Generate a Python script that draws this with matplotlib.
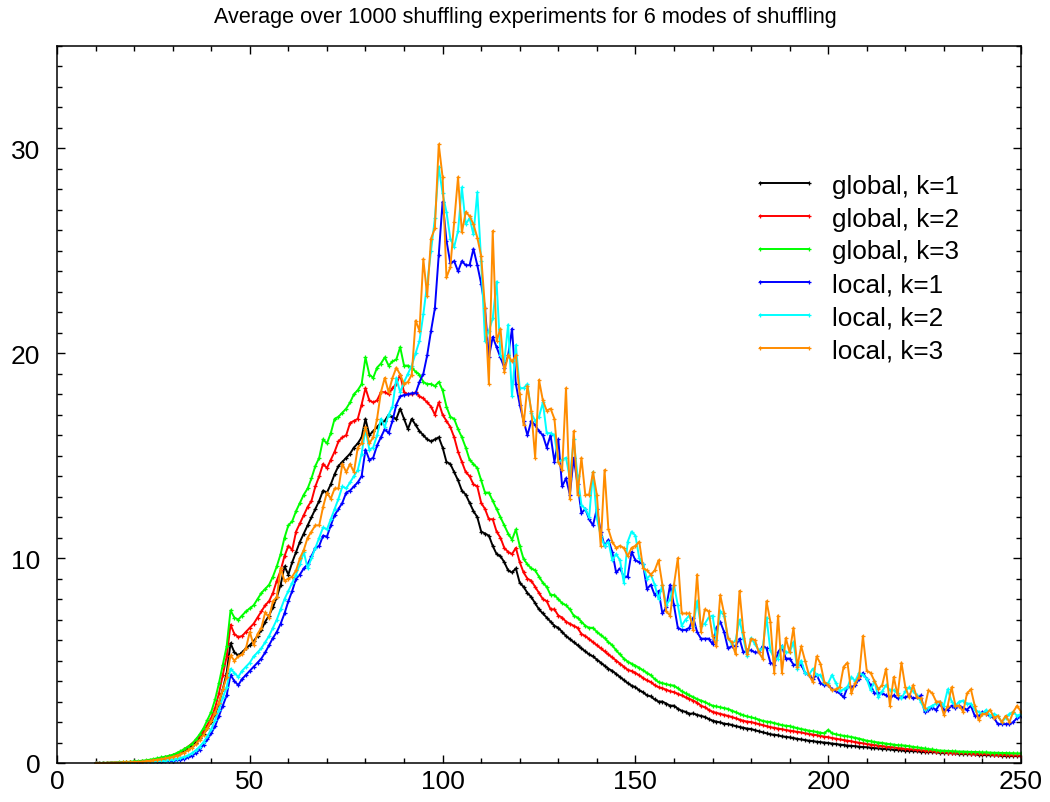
import numpy as np
import matplotlib
matplotlib.use("Agg")
import matplotlib.pyplot as plt
from matplotlib.ticker import MultipleLocator

plt.rcParams['font.family'] = ['Liberation Sans', 'DejaVu Sans']

title = "Average over 1000 shuffling experiments for 6 modes of shuffling"
labels = ["global, k=1", "global, k=2", "global, k=3", "local, k=1", "local, k=2", "local, k=3"]
colors = ["#000000", "#ff0000", "#00ff00", "#0000ff", "#00ffff", "#ff8c00"]

x_start, x_end = 10, 250

global_k1 = [
    0.00, 0.00, 0.00, 0.00, 0.01, 0.01, 0.01, 0.02, 0.02, 0.03,
    0.04, 0.05, 0.06, 0.08, 0.10, 0.12, 0.15, 0.18, 0.22, 0.27,
    0.33, 0.40, 0.48, 0.58, 0.70, 0.84, 1.00, 1.20, 1.42, 1.70,
    2.00, 2.40, 2.90, 3.60, 4.40, 5.85, 5.40, 5.25, 5.40, 5.60,
    5.75, 5.95, 6.20, 6.50, 6.90, 7.20, 7.60, 8.10, 8.70, 9.60,
    9.20, 9.80, 10.30, 10.80, 11.20, 11.60, 12.00, 12.40, 12.80, 13.30,
    13.20, 13.60, 14.10, 14.50, 14.70, 14.90, 15.10, 15.40, 15.60, 15.90,
    16.80, 16.00, 16.20, 16.40, 16.60, 16.70, 17.00, 16.90, 16.80, 17.30,
    16.80, 16.30, 16.80, 16.50, 16.20, 16.00, 15.80, 15.70, 15.80, 15.90,
    15.40, 14.70, 14.60, 14.20, 13.80, 13.30, 13.10, 12.70, 12.30, 12.00,
    11.30, 11.20, 11.10, 10.60, 10.20, 10.10, 9.80, 9.40, 9.30, 9.50,
    8.80, 8.60, 8.30, 8.10, 7.80, 7.50, 7.30, 7.10, 6.90, 6.70,
    6.60, 6.40, 6.20, 6.05, 5.90, 5.75, 5.60, 5.45, 5.30, 5.20,
    5.05, 4.90, 4.75, 4.60, 4.50, 4.35, 4.20, 4.05, 3.90,
    3.78, 3.70, 3.55, 3.45, 3.30, 3.25, 3.10, 3.00, 3.00, 2.90,
    2.80, 2.80, 2.65, 2.55, 2.50, 2.40, 2.42, 2.35, 2.30, 2.25,
    2.15, 2.07, 2.02, 1.98, 1.92, 1.90, 1.86, 1.80, 1.76, 1.72,
    1.68, 1.66, 1.60, 1.55, 1.50, 1.45, 1.40, 1.38, 1.35, 1.30,
    1.28, 1.25, 1.22, 1.18, 1.15, 1.12, 1.09, 1.07, 1.04, 1.02,
    1.00, 0.98, 0.95, 0.93, 0.90, 0.88, 0.85, 0.84, 0.82, 0.80,
    0.78, 0.77, 0.75, 0.73, 0.71, 0.70, 0.68, 0.66, 0.65, 0.63,
    0.62, 0.60, 0.59, 0.58, 0.57, 0.56, 0.55, 0.54, 0.53, 0.52,
    0.51, 0.50, 0.49, 0.48, 0.47, 0.46, 0.45, 0.44, 0.43, 0.42,
    0.41, 0.40, 0.39, 0.38, 0.38, 0.37, 0.36, 0.35, 0.35, 0.34,
    0.34, 0.33,
]

global_k2 = [
    0.00, 0.00, 0.00, 0.00, 0.01, 0.01, 0.02, 0.02, 0.03, 0.04,
    0.05, 0.06, 0.08, 0.10, 0.12, 0.15, 0.18, 0.22, 0.27, 0.32,
    0.38, 0.46, 0.55, 0.66, 0.80, 0.95, 1.12, 1.32, 1.55, 1.85,
    2.20, 2.70, 3.40, 4.30, 5.20, 6.75, 6.30, 6.15, 6.20, 6.40,
    6.60, 6.80, 7.10, 7.40, 7.70, 7.90, 8.30, 8.90, 9.40, 10.10,
    10.60, 10.40, 11.30, 11.70, 12.10, 12.50, 12.80, 13.50, 14.00, 14.60,
    14.40, 14.80, 15.20, 15.70, 15.90, 16.00, 16.60, 16.70, 16.80, 17.50,
    18.30, 17.70, 17.60, 17.70, 18.10, 18.10, 18.00, 18.30, 18.50, 18.96,
    18.10, 18.00, 18.00, 18.10, 17.90, 17.80, 17.60, 17.40, 17.00, 17.60,
    17.00, 16.70, 16.40, 15.90, 15.20, 14.70, 14.20, 14.00, 13.60, 13.50,
    12.70, 12.40, 11.90, 11.90, 11.30, 11.00, 10.50, 10.30, 10.20, 10.50,
    9.80, 9.30, 9.00, 8.90, 8.60, 8.30, 8.00, 7.90, 7.50, 7.50,
    7.20, 7.10, 6.90, 6.80, 6.70, 6.60, 6.30, 6.20,
    6.05, 5.90, 5.75, 5.60, 5.45, 5.30, 5.15, 5.00, 4.85, 4.70, 4.55,
    4.49, 4.40, 4.28, 4.15, 4.03, 3.95, 3.80, 3.70, 3.65, 3.58,
    3.50, 3.46, 3.38, 3.30, 3.20, 3.13, 3.05, 2.95, 2.80, 2.72,
    2.60, 2.50, 2.45, 2.40, 2.35, 2.30, 2.25, 2.18, 2.12, 2.06,
    2.02, 2.00, 1.95, 1.90, 1.85, 1.80, 1.75, 1.72, 1.68, 1.65,
    1.61, 1.58, 1.55, 1.52, 1.49, 1.45, 1.42, 1.39, 1.36, 1.32,
    1.29, 1.26, 1.22, 1.19, 1.15, 1.12, 1.09, 1.06, 1.02, 0.99,
    0.96, 0.93, 0.90, 0.88, 0.85, 0.83, 0.80, 0.78, 0.76, 0.73,
    0.71, 0.69, 0.67, 0.66, 0.64, 0.62, 0.61, 0.59, 0.58, 0.56,
    0.54, 0.52, 0.51, 0.50, 0.49, 0.48, 0.47, 0.47, 0.46, 0.45,
    0.45, 0.44, 0.43, 0.42, 0.41, 0.40, 0.40, 0.39, 0.38, 0.37,
    0.37, 0.36,
]

global_k3 = [
    0.00, 0.00, 0.01, 0.01, 0.02, 0.02, 0.03, 0.04, 0.05, 0.06,
    0.08, 0.09, 0.11, 0.13, 0.16, 0.19, 0.23, 0.27, 0.31, 0.35,
    0.40, 0.48, 0.57, 0.68, 0.80, 0.93, 1.15, 1.40, 1.70, 2.10,
    2.50, 3.10, 3.90, 4.80, 5.70, 7.45, 7.10, 7.00, 7.20, 7.40,
    7.55, 7.70, 8.00, 8.30, 8.50, 8.70, 9.10, 9.60, 10.20, 11.00,
    11.60, 11.80, 12.30, 12.70, 13.10, 13.40, 13.90, 14.50, 14.90, 15.80,
    15.60, 16.10, 16.80, 16.90, 17.10, 17.30, 17.60, 18.00, 18.20, 18.50,
    19.80, 18.96, 18.80, 19.30, 19.50, 19.80, 19.40, 19.60, 19.70, 20.30,
    19.40, 19.40, 19.30, 19.10, 18.96, 18.60, 18.50, 18.50, 18.40, 18.60,
    18.20, 17.40, 16.90, 16.80, 16.30, 15.90, 15.40, 14.80, 14.60, 14.40,
    13.80, 13.20, 13.20, 12.80, 12.40, 12.00, 11.60, 11.20, 10.90, 11.40,
    10.60, 9.96, 9.70, 9.50, 9.40, 9.10, 8.80, 8.60, 8.20, 8.20,
    8.00, 7.80, 7.70, 7.50, 7.20, 7.10, 6.90, 6.70, 6.60, 6.60,
    6.40, 6.25, 6.10, 5.90, 5.75, 5.50, 5.30, 5.10, 4.95,
    4.85, 4.75, 4.65, 4.52, 4.40, 4.28, 4.10, 3.95, 3.90, 3.85,
    3.80, 3.78, 3.65, 3.50, 3.40, 3.30, 3.22, 3.12, 3.05, 2.98,
    2.88, 2.80, 2.76, 2.72, 2.68, 2.64, 2.56, 2.48, 2.40, 2.33,
    2.27, 2.23, 2.18, 2.12, 2.06, 2.02, 2.00, 1.95, 1.90, 1.85,
    1.82, 1.80, 1.75, 1.70, 1.66, 1.62, 1.58, 1.55, 1.52, 1.48,
    1.45, 1.62, 1.45, 1.40, 1.36, 1.33, 1.30, 1.27, 1.23, 1.19,
    1.14, 1.09, 1.06, 1.03, 1.00, 0.98, 0.95, 0.92, 0.90, 0.87,
    0.86, 0.85, 0.82, 0.79, 0.76, 0.74, 0.71, 0.68, 0.66, 0.63,
    0.61, 0.60, 0.59, 0.58, 0.57, 0.56, 0.56, 0.55, 0.54, 0.54,
    0.53, 0.52, 0.52, 0.51, 0.50, 0.50, 0.49, 0.49, 0.48, 0.48,
    0.47, 0.47,
]

local_k1 = [
    0.00, 0.00, 0.00, 0.00, 0.00, 0.00, 0.00, 0.01, 0.01, 0.01,
    0.02, 0.02, 0.03, 0.03, 0.04, 0.05, 0.06, 0.07, 0.08, 0.10,
    0.12, 0.14, 0.17, 0.21, 0.27, 0.35, 0.48, 0.65, 0.88, 1.15,
    1.45, 1.80, 2.30, 2.80, 3.30, 4.30, 4.00, 3.80, 4.10, 4.30,
    4.50, 4.70, 4.90, 5.10, 5.40, 5.75, 6.10, 6.40, 6.80, 7.30,
    7.90, 8.40, 9.00, 9.20, 9.50, 9.70, 10.10, 10.50, 10.60, 11.10,
    11.05, 11.60, 12.10, 12.40, 12.70, 13.20, 13.30, 13.50, 13.70, 14.00,
    15.30, 14.80, 14.90, 15.50, 15.90, 16.30, 16.10, 16.70, 17.50, 17.90,
    17.96, 18.00, 18.05, 18.05, 18.60, 19.00, 19.90, 21.10, 22.20, 24.80,
    27.40, 25.50, 24.40, 24.50, 24.00, 24.50, 24.30, 24.30, 25.10, 24.30,
    23.40, 22.20, 19.80, 20.80, 20.30, 19.80, 19.30, 19.90, 21.20, 18.50,
    17.50, 16.70, 16.00, 16.70, 16.50, 16.20, 16.00, 15.40, 16.00, 14.70,
    15.80, 13.50, 13.90, 13.10, 14.90, 13.60, 12.20, 12.40, 11.90, 11.60,
    12.40, 11.30, 10.60, 10.90, 10.30, 9.30, 9.50, 9.10, 9.10,
    10.30, 9.90, 9.80, 9.70, 8.50, 8.70, 8.20, 8.40, 7.30, 7.60,
    8.70, 7.70, 6.60, 6.50, 6.50, 6.60, 7.10, 6.40, 6.07, 6.07,
    6.07, 5.80, 6.60, 6.90, 6.40, 5.60, 5.70, 5.70, 6.07, 5.40,
    5.50, 5.50, 5.40, 5.40, 5.70, 5.60, 4.90, 4.80, 5.40, 5.70,
    5.10, 5.10, 4.80, 4.80, 4.80, 4.40, 4.30, 4.10, 4.30, 3.90,
    3.80, 3.80, 3.60, 3.50, 3.40, 3.20, 3.70, 3.70, 3.80, 4.10,
    4.40, 4.10, 3.80, 3.40, 3.40, 3.40, 3.30, 3.20, 3.30, 3.15,
    3.20, 3.20, 3.30, 3.15, 3.20, 3.30, 2.50, 2.60, 2.70, 2.60,
    2.90, 2.60, 2.60, 2.80, 2.70, 2.80, 2.70, 2.60, 2.80, 2.30,
    2.30, 2.50, 2.40, 2.30, 2.20, 1.90, 1.90, 1.90, 1.90, 2.00,
    2.20, 2.30,
]

local_k2 = [
    0.00, 0.00, 0.00, 0.00, 0.00, 0.00, 0.01, 0.01, 0.01, 0.02,
    0.02, 0.03, 0.03, 0.04, 0.05, 0.06, 0.08, 0.10, 0.12, 0.14,
    0.17, 0.20, 0.24, 0.30, 0.37, 0.48, 0.62, 0.80, 1.02, 1.30,
    1.65, 2.10, 2.60, 3.20, 3.70, 4.60, 4.40, 4.20, 4.50, 4.70,
    4.90, 5.20, 5.40, 5.60, 5.90, 6.20, 6.60, 7.00, 7.50, 8.00,
    8.40, 8.80, 9.20, 9.70, 10.30, 9.50, 10.00, 10.50, 11.00, 11.50,
    11.40, 11.90, 12.40, 12.90, 13.50, 13.40, 13.70, 14.00, 14.30, 15.10,
    16.30, 15.30, 15.40, 16.00, 16.80, 16.40, 17.00, 17.40, 18.80, 18.10,
    18.60, 19.00, 19.40, 20.00, 20.60, 21.90, 23.40, 25.00, 26.60, 29.10,
    27.80, 26.90, 25.60, 25.20, 25.97, 28.10, 26.30, 26.60, 25.80, 27.85,
    24.50, 20.60, 21.10, 21.70, 23.50, 19.90, 19.60, 21.40, 17.90, 20.40,
    18.30, 18.30, 18.50, 17.10, 16.70, 16.90, 17.60, 16.10, 16.10, 16.00,
    14.70, 14.80, 14.90, 13.90, 15.80, 14.00, 12.60, 12.40, 12.00, 14.20,
    11.96, 11.10, 10.60, 10.80, 9.90, 10.20, 9.90, 8.80, 10.80,
    11.30, 11.10, 10.00, 9.70, 9.00, 9.20, 8.70, 8.00, 8.70, 7.70,
    8.00, 8.70, 7.70, 6.70, 7.00, 7.20, 6.70, 7.90, 6.70, 6.80,
    7.10, 7.20, 6.00, 7.40, 7.20, 6.10, 5.80, 6.00, 7.00, 6.10,
    5.20, 6.10, 5.80, 5.50, 5.60, 7.10, 5.50, 5.10, 5.10, 5.70,
    5.40, 5.40, 5.90, 4.60, 5.00, 4.40, 4.30, 4.60, 4.30, 4.30,
    3.90, 3.90, 4.30, 3.90, 3.50, 3.60, 3.70, 4.20, 4.00, 4.40,
    4.30, 4.10, 3.55, 4.00, 3.20, 3.50, 3.80, 3.55, 3.55, 3.40,
    3.15, 3.50, 3.70, 3.50, 3.30, 3.00, 2.60, 2.70, 2.80, 2.90,
    3.00, 2.80, 3.60, 3.00, 2.80, 3.00, 3.05, 2.90, 2.90, 2.60,
    2.50, 2.40, 2.60, 2.30, 2.40, 2.30, 2.00, 2.20, 2.40, 2.50,
    2.30, 2.40,
]

local_k3 = [
    0.00, 0.00, 0.00, 0.01, 0.01, 0.02, 0.02, 0.03, 0.03, 0.04,
    0.05, 0.06, 0.07, 0.09, 0.11, 0.13, 0.16, 0.19, 0.22, 0.26,
    0.30, 0.36, 0.43, 0.51, 0.62, 0.75, 0.92, 1.12, 1.38, 1.70,
    2.05, 2.45, 2.95, 3.60, 4.20, 5.25, 5.00, 5.20, 5.30, 5.60,
    6.40, 5.75, 6.30, 6.60, 7.35, 7.10, 7.90, 8.10, 9.50, 8.90,
    9.00, 9.10, 9.40, 10.00, 10.40, 11.00, 11.30, 11.60, 11.60, 12.50,
    13.20, 12.90, 13.40, 13.40, 14.60, 14.20, 14.60, 14.20, 15.40, 15.60,
    16.40, 15.60, 15.90, 16.80, 18.10, 18.80, 18.10, 18.80, 19.30, 18.96,
    18.50, 18.60, 18.96, 21.60, 21.10, 24.60, 22.80, 25.60, 26.10, 30.20,
    28.60, 23.70, 24.20, 26.40, 28.60, 25.90, 26.90, 26.70, 26.30, 25.65,
    24.75, 22.20, 18.50, 25.97, 20.60, 21.20, 19.10, 19.90, 19.60, 19.90,
    18.00, 16.50, 18.40, 17.20, 14.90, 18.70, 17.70, 17.20, 17.30, 16.80,
    14.70, 14.30, 18.30, 12.90, 16.20, 13.10, 14.90, 13.10, 13.10, 14.20,
    13.10, 10.60, 14.30, 11.40, 10.80, 10.50, 10.60, 10.50, 10.10,
    10.50, 10.60, 10.80, 9.50, 9.40, 9.20, 9.40, 9.90, 8.70, 7.40,
    7.20, 8.70, 10.00, 7.30, 7.30, 7.30, 6.50, 9.20, 6.40, 7.50,
    7.40, 6.20, 5.70, 8.20, 7.30, 6.10, 5.90, 5.30, 8.40, 6.40,
    5.30, 6.07, 6.00, 5.40, 5.10, 7.90, 6.90, 4.40, 7.20, 4.40,
    6.10, 5.40, 6.60, 4.70, 5.70, 5.00, 4.30, 3.95, 5.20, 4.85,
    3.95, 3.80, 3.55, 3.60, 3.70, 4.70, 4.90, 3.40, 3.90, 4.20,
    6.20, 4.50, 4.40, 4.00, 3.60, 3.80, 4.60, 2.80, 4.20, 3.30,
    4.90, 3.70, 3.20, 3.80, 3.20, 3.15, 2.70, 3.55, 3.40, 3.00,
    3.00, 2.35, 2.80, 3.70, 2.80, 2.80, 2.50, 3.40, 3.60, 2.80,
    2.10, 2.40, 2.40, 2.60, 2.20, 2.30, 2.00, 2.30, 2.00, 2.50,
    2.80, 2.50,
]

series = [global_k1, global_k2, global_k3, local_k1, local_k2, local_k3]
x = np.arange(x_start, x_end + 1)

fig = plt.figure(figsize=(10.5, 8.03), dpi=100)
ax = fig.add_axes([57 / 1050, 1 - 764 / 803, 964 / 1050, 717 / 803])

for vals, col, lab in zip(series, colors, labels):
    ax.plot(x, vals, color=col, lw=1.4, marker='+', ms=3.5, mew=0.9, label=lab)

ax.set_xlim(0, 250)
ax.set_ylim(0, 35)
ax.set_xticks([0, 50, 100, 150, 200, 250])
ax.xaxis.set_minor_locator(MultipleLocator(10))
ax.set_yticks([0, 10, 20, 30])
ax.yaxis.set_minor_locator(MultipleLocator(1))
ax.tick_params(which='both', direction='in', top=True, right=True, width=1.0)
ax.tick_params(which='major', length=6, labelsize=19)
ax.tick_params(which='minor', length=3.6)
ax.tick_params(axis='x', which='major', pad=4)
ax.tick_params(axis='y', which='major', pad=12)
for sp in ax.spines.values():
    sp.set_linewidth(1.1)

ax.legend(loc='upper left', bbox_to_anchor=(0.721, 0.822), frameon=False,
          numpoints=2, handlelength=2.5, handletextpad=0.55, labelspacing=0.34,
          fontsize=18.8, borderpad=0, borderaxespad=0)

fig.text(0.5, 1 - 18 / 803, title, ha='center', va='center', fontsize=15.6)

fig.savefig("out.png", dpi=100)
